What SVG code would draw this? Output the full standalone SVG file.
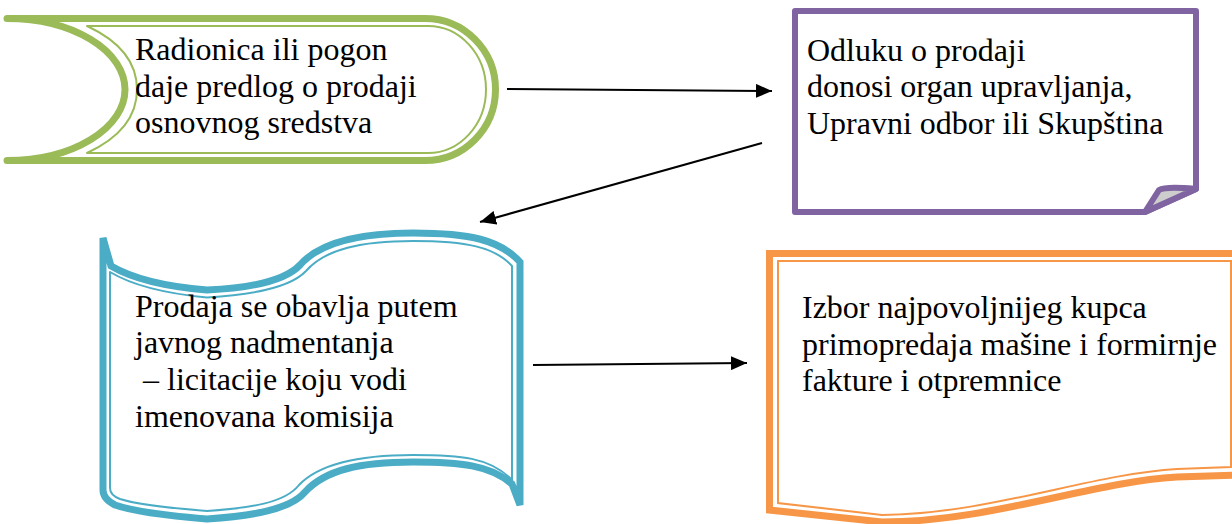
<svg xmlns="http://www.w3.org/2000/svg" width="1232" height="524" viewBox="0 0 1232 524">
<style>
  text { font-family: "Liberation Serif", "DejaVu Serif", serif; font-size: 32px; fill: #000; }
  .thick { fill: #fff; stroke-width: 7; stroke-linejoin: round; }
  .thin { fill: none; stroke-width: 2; stroke-linejoin: round; }
  .g { stroke: #9bbb59; }
  .b { stroke: #4bacc6; }
  .o { stroke: #f79646; }
  .conn { stroke: #000; stroke-width: 2; fill: none; marker-end: url(#ah); }
</style>
<defs>
  <marker id="ah" markerUnits="userSpaceOnUse" markerWidth="16" markerHeight="14" viewBox="0 0 16 14" refX="16" refY="7" orient="auto">
    <path d="M0,0 L16,7 L0,14 Z" fill="#000"/>
  </marker>
</defs>
<rect width="1232" height="524" fill="#fff"/>

<g id="node-radionica">
  <path class="thick g" d="M7,18.5 L425,18.5 A70.5,71 0 0 1 425,160.5 L7,160.5 A118,71 0 0 0 7,18.5 Z"/>
  <path class="thin g" d="M87,26 L428,26 A58,63.5 0 0 1 428,153 L87,153 C115,140 137,120 137,89.5 C137,59 115,39 87,26 Z"/>
  <text x="135" y="60" font-family="Liberation Serif">Radionica ili pogon</text>
  <text x="135" y="97" font-family="Liberation Serif">daje predlog o prodaji</text>
  <text x="135" y="133" font-family="Liberation Serif">osnovnog sredstva</text>
</g>

<g id="node-odluka">
  <path d="M795,11 H1196 V189 L1145,212 H795 Z" fill="#fff" stroke="#8064a2" stroke-width="6" stroke-linejoin="round"/>
  <path d="M1145,212 L1159,190 C1166,186 1185,188 1196,189 Z" fill="#cdcdcd" stroke="#8064a2" stroke-width="6" stroke-linejoin="round"/>
  <text x="807" y="61" font-family="Liberation Serif">Odluku o prodaji</text>
  <text x="807" y="97" font-family="Liberation Serif">donosi organ upravljanja,</text>
  <text x="807" y="134" font-family="Liberation Serif">Upravni odbor ili Skupština</text>
</g>

<g id="node-prodaja">
  <path class="thick b" style="stroke-linejoin:miter;stroke-miterlimit:4" d="M103,238 L111,266 C135,280 170,287 207,290 C250,288 285,281 300,265 C320,242 360,233 413,233 C470,233 500,240 520,262 L520,505 L512,484 C490,465 460,462 413,462 C360,462 325,470 305,492 C290,510 250,516 207,519 C170,516 135,512 115,505 C105,500 103,495 103,490 Z"/>
  <path class="thin b" d="M110,272 C135,287 170,294 207,297.5 C250,295 290,288 306,271 C325,249 362,241 413,241 C466,241 495,247 512,266 L512,480 C490,457 460,455 413,455 C360,455 320,463 299,485 C285,503 250,508 207,511 C170,508 135,504 120,499 C112,496 110,492 110,488 Z"/>
  <text x="135" y="317" font-family="Liberation Serif">Prodaja se obavlja putem</text>
  <text x="135" y="353" font-family="Liberation Serif">javnog nadmentanja</text>
  <text x="135" y="390" font-family="Liberation Serif" xml:space="preserve"> – licitacije koju vodi</text>
  <text x="135" y="427" font-family="Liberation Serif">imenovana komisija</text>
</g>

<g id="node-izbor">
  <path class="thick o" style="stroke-linejoin:miter" d="M769.5,253.5 H1240 V475 L1177,477 C1090,482 990,522 882,522 L769.5,510 Z"/>
  <path class="thin o" style="stroke-linejoin:miter" d="M778,261 H1231 V467 L1177,469 C1090,474 990,514 882,515 L778,503 Z"/>
  <text x="802" y="318" font-family="Liberation Serif">Izbor najpovoljnijeg kupca</text>
  <text x="802" y="355" font-family="Liberation Serif">primopredaja mašine i formirnje</text>
  <text x="802" y="391" font-family="Liberation Serif">fakture i otpremnice</text>
</g>

<g id="connectors">
  <line class="conn" x1="507" y1="89" x2="772" y2="91"/>
  <line class="conn" x1="762" y1="143" x2="480" y2="222"/>
  <line class="conn" x1="533" y1="365" x2="747" y2="363"/>
</g>
</svg>
